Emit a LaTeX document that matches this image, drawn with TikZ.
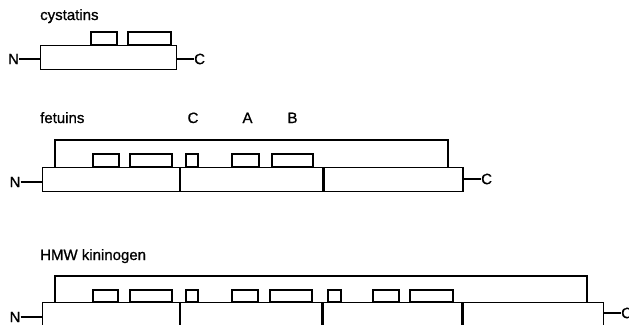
\documentclass[tikz,border=0pt]{standalone}
\usepackage{fontspec}
\setmainfont{Liberation Sans}
\newfontfamily\labelfont{Liberation Sans}[FakeBold=0.9]
\usepackage{tikz}
\usetikzlibrary{calc}
\tikzset{
  domainbox/.style={draw=black, line width=1.2pt, rectangle, inner sep=0pt, minimum height=24pt, anchor=north west},
  loopbox/.style={draw=black, line width=1.2pt},
  bracketline/.style={draw=black, line width=1.2pt},
  tether/.style={draw=black, line width=1.2pt},
  famlabel/.style={font=\labelfont\fontsize{15}{18}\selectfont, inner sep=0pt, anchor=base west},
  sitelabel/.style={font=\labelfont\fontsize{15}{18}\selectfont, inner sep=0pt, anchor=base},
  termlabel/.style={font=\labelfont\fontsize{15}{18}\selectfont, inner sep=0pt}
}

\begin{document}
\begin{tikzpicture}[x=1pt, y=-1pt]
  \useasboundingbox (0,0) rectangle (629,324);
  \clip (0,0) rectangle (629,324);
  \node[famlabel] (cyslabel) at (40,20) {cystatins};
  \node[domainbox, minimum width=136pt] (cysD1) at (40,45) {};
  \draw[loopbox] (91,45) rectangle (117,32);
  \draw[loopbox] (128,45) rectangle (171,32);
  \node[termlabel] (cysN) at (13.5,59) {N};
  \node[termlabel, anchor=west] (cysC) at (194,59) {C};
  \draw[tether] (cysN.east) -- (cysN.east -| cysD1.west);
  \draw[tether] (cysC.west) -- (cysC.west -| cysD1.east);
  \node[famlabel] (fetlabel) at (40,123) {fetuins};
  \node[sitelabel] (fetsiteC) at (193,123) {C};
  \node[sitelabel] (fetsiteA) at (247.5,123) {A};
  \node[sitelabel] (fetsiteB) at (292.5,123) {B};
  \draw[bracketline] (55,167) -- (55,140) -- (448,140) -- (448,167);
  \node[domainbox, minimum width=137pt] (fetD1) at (42,167) {};
  \node[domainbox, minimum width=142pt] (fetD2) at (fetD1.north east) {};
  \node[domainbox, minimum width=139pt] (fetD3) at (fetD2.north east) {};
  \draw[loopbox] (93,167) rectangle (119,154);
  \draw[loopbox] (130,167) rectangle (172,154);
  \draw[loopbox] (186,167) rectangle (198,154);
  \draw[loopbox] (232,167) rectangle (259,154);
  \draw[loopbox] (272,167) rectangle (313,154);
  \node[termlabel] (fetN) at (15,182) {N};
  \node[termlabel, anchor=west] (fetC) at (481,179) {C};
  \draw[tether] (fetN.east) -- (fetN.east -| fetD1.west);
  \draw[tether] (fetC.west) -- (fetC.west -| fetD3.east);
  \node[famlabel] (hmwlabel) at (40,260) {HMW kininogen};
  \draw[bracketline] (55,302) -- (55,276) -- (587,276) -- (587,302);
  \node[domainbox, minimum width=137pt, minimum height=40pt] (hmwD1) at (42,302) {};
  \node[domainbox, minimum width=141pt, minimum height=40pt] (hmwD2) at (hmwD1.north east) {};
  \node[domainbox, minimum width=139pt, minimum height=40pt] (hmwD3) at (hmwD2.north east) {};
  \node[domainbox, minimum width=140pt, minimum height=40pt] (hmwD4) at (hmwD3.north east) {};
  \draw[loopbox] (93,302) rectangle (118,290);
  \draw[loopbox] (130,302) rectangle (172,290);
  \draw[loopbox] (186,302) rectangle (198,290);
  \draw[loopbox] (232,302) rectangle (258,290);
  \draw[loopbox] (270,302) rectangle (312,290);
  \draw[loopbox] (328,302) rectangle (341,290);
  \draw[loopbox] (373,302) rectangle (399,290);
  \draw[loopbox] (410,302) rectangle (453,290);
  \node[termlabel] (hmwN) at (15,317) {N};
  \node[termlabel, anchor=west] (hmwC) at (621,313) {C};
  \draw[tether] (hmwN.east) -- (hmwN.east -| hmwD1.west);
  \draw[tether] (hmwC.west) -- (hmwC.west -| hmwD4.east);
\end{tikzpicture}
\end{document}
